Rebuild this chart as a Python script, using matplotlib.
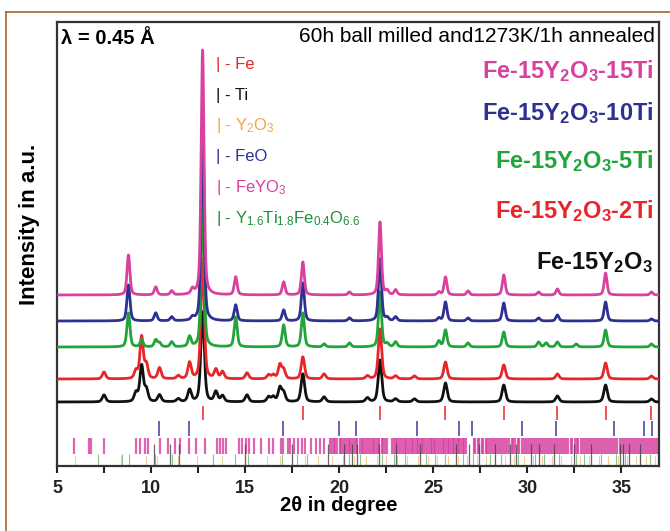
import numpy as np
import matplotlib
matplotlib.use("Agg")
import matplotlib.pyplot as plt
from matplotlib.lines import Line2D

plt.rcParams["font.family"] = ["Liberation Sans", "DejaVu Sans"]
plt.rcParams["mathtext.fontset"] = "custom"
plt.rcParams["mathtext.rm"] = "Liberation Sans"
plt.rcParams["mathtext.bf"] = "Liberation Sans:bold"
plt.rcParams["mathtext.it"] = "Liberation Sans:italic"

# peak positions (2theta, deg) shared by all patterns
peak_pos = [7.5, 8.8, 9.2, 9.5, 9.75, 10.25, 10.45, 11.1, 11.45, 12.05,
            12.2, 12.74, 13.45, 13.8, 14.5, 15.1, 16.25, 16.5, 16.85, 17.05,
            18.07, 19.2, 20.55, 21.5, 22.17, 22.55, 23.0, 24.0, 25.3, 25.65,
            26.85, 28.75, 30.6, 31.0, 31.6, 32.6, 34.16, 36.6]

# peak heights (a.u.) for each sample
h_15ti = [0, 40, 0, 0, 0, 8, 0, 4, 0, 0,
          5, 245, 0, 0, 18, 0, 0, 0, 0, 13,
          33, 0, 3, 0, 73, 4, 5, 0, 3, 18,
          4, 20, 3, 0, 6, 0, 22, 3]
h_10ti = [0, 36, 0, 0, 0, 8, 0, 4, 0, 0,
          3, 190, 0, 0, 16, 0, 0, 0, 0, 11,
          38, 0, 3, 0, 62, 3, 4, 0, 3, 19,
          3, 18, 3, 0, 6, 0, 19, 2]
h_5ti = [0, 34, 0, 7, 0, 7, 4, 5, 0, 10,
         0, 150, 0, 0, 30, 0, 0, 0, 0, 22,
         34, 3, 4, 0, 55, 3, 5, 0, 6, 17,
         4, 15, 5, 4, 5, 3, 17, 3]
h_2ti = [7, 0, 8, 42, 14, 0, 11, 0, 3, 16,
         0, 120, 9, 7, 0, 6, 4, 4, 14, 9,
         22, 5, 0, 3, 50, 0, 3, 3, 0, 17,
         0, 14, 0, 0, 5, 0, 16, 3]
h_0ti = [7, 0, 9, 36, 12, 0, 7, 0, 3, 12,
         0, 90, 10, 6, 0, 7, 5, 5, 14, 9,
         28, 5, 0, 4, 42, 0, 3, 3, 0, 19,
         0, 17, 0, 0, 6, 0, 17, 3]

series_labels = ["Fe-15Y$_\\mathbf{2}$O$_\\mathbf{3}$-15Ti",
                 "Fe-15Y$_\\mathbf{2}$O$_\\mathbf{3}$-10Ti",
                 "Fe-15Y$_\\mathbf{2}$O$_\\mathbf{3}$-5Ti",
                 "Fe-15Y$_\\mathbf{2}$O$_\\mathbf{3}$-2Ti",
                 "Fe-15Y$_\\mathbf{2}$O$_\\mathbf{3}$"]
series_heights = [h_15ti, h_10ti, h_5ti, h_2ti, h_0ti]
series_colors = ["#d9419f", "#2e3192", "#1fa53a", "#e8262a", "#111111"]
offsets = [171, 145, 119, 87, 64]
widths = [0.18, 0.19, 0.19, 0.21, 0.22]

# reference reflection positions
fe_ref = [12.75, 18.07, 22.17, 25.65, 28.75, 31.56, 34.16, 36.6]
feo_ref = [10.4, 12.02, 17.02, 19.97, 20.9, 24.16, 26.35, 27.05, 29.7,
           31.55, 34.6, 36.2, 36.65]
feyo3_ref = [5.92, 6.72, 6.83, 7.52, 9.19, 9.41, 9.67, 9.84, 10.48, 10.91,
             11.3, 11.52, 12.0, 12.38, 12.85, 13.49, 13.65, 13.82, 13.97,
             14.68, 14.83, 15.04, 15.2, 15.49, 15.86, 16.29, 16.5, 16.9,
             17.04, 17.26, 17.37, 17.58, 17.8, 18.0, 18.2, 18.48, 18.76,
             18.98, 19.19, 19.52, 19.6, 19.71, 19.78, 19.9, 20.02, 20.1,
             20.18, 20.3, 20.41, 20.5, 20.57, 20.69, 20.8, 20.88, 20.97,
             21.1, 21.2, 21.27, 21.38, 21.5, 21.56, 21.67, 21.78, 21.86,
             21.95, 22.05, 22.14, 22.26, 22.35, 22.44, 22.52, 22.82, 22.9,
             23.0, 23.08, 23.18, 23.3, 23.37, 23.48, 23.56, 23.66, 23.75,
             23.85, 23.93, 24.02, 24.12, 24.2, 24.31, 24.4, 24.48, 24.58,
             24.67, 24.77, 24.86, 24.94, 25.05, 25.12, 25.22, 25.31, 25.4,
             25.5, 25.58, 25.67, 25.76, 25.85, 25.94, 26.03, 26.12, 26.2,
             26.3, 26.38, 26.47, 26.56, 26.65, 26.74, 27.15, 27.24, 27.36,
             27.45, 27.57, 27.66, 27.78, 27.86, 27.97, 28.08, 28.2, 28.29,
             28.4, 28.52, 28.61, 28.73, 28.84, 28.93, 29.05, 29.16, 29.25,
             29.37, 29.48, 29.58, 29.7, 29.8, 29.91, 30.03, 30.12, 30.24,
             30.35, 30.44, 30.56, 30.67, 30.77, 30.88, 31.0, 31.1, 31.2,
             31.32, 31.43, 31.52, 31.64, 31.75, 31.86, 31.96, 32.07, 32.18,
             32.3, 32.4, 32.51, 32.62, 32.72, 32.84, 32.94, 33.05, 33.16,
             33.27, 33.38, 33.48, 33.6, 33.7, 33.8, 33.92, 34.03, 34.13,
             34.25, 34.36, 34.46, 34.58, 34.68, 34.79, 34.9, 35.01, 35.12,
             35.22, 35.34, 35.44, 35.55, 35.66, 35.77, 35.88, 35.98, 36.09,
             36.2, 36.31, 36.42, 36.52, 36.63, 36.74, 36.85, 36.95]
ti_ref = [10.15, 11.0, 11.5, 15.0, 17.5, 19.4, 20.25, 20.7, 20.96, 22.1,
          23.04, 24.3, 26.2, 26.9, 27.45, 28.3, 29.1, 29.4, 30.2, 30.6,
          31.4, 32.5, 33.4, 34.9, 35.1, 35.4, 36.0]
y2o3_ref = [5.96, 8.43, 9.73, 10.33, 11.42, 12.42, 13.78, 15.0, 16.16,
            16.88, 17.5, 18.2, 18.9, 19.6, 20.2, 20.8, 21.4, 22.0, 22.5,
            23.1, 23.6, 24.2, 24.7, 25.2, 25.8, 26.3, 26.8, 27.3, 27.8,
            28.3, 28.8, 29.3, 29.8, 30.3, 30.8, 31.3, 31.8, 32.3, 32.8,
            33.3, 33.8, 34.3, 34.8, 35.3, 35.8, 36.3, 36.8]
pyro_ref = [7.2, 8.47, 8.85, 10.22, 11.14, 13.28, 14.46, 15.13, 16.97,
            17.74, 18.29, 20.5, 21.1, 22.3, 22.9, 23.5, 24.6, 25.1, 25.6,
            26.6, 27.1, 28.0, 28.6, 29.5, 30.4, 30.9, 31.7, 32.6, 33.0,
            33.9, 34.7, 35.2, 36.0, 36.5]

legend_names = ["| - Fe", "| - Ti", "| - Y$_2$O$_3$", "| - FeO", "| - FeYO$_3$",
                "| - Y$_{1.6}$Ti$_{1.8}$Fe$_{0.4}$O$_{6.6}$"]
legend_colors = ["#e8262a", "#111111", "#f2a541", "#2e3192", "#d9419f", "#1f8f3a"]


def pattern(x, pos, hts, w, eta=0.45):
    y = np.zeros_like(x)
    for p, h in zip(pos, hts):
        if h == 0:
            continue
        u = (x - p) / (w / 2)
        y += h * (eta / (1 + u ** 2) + (1 - eta) * np.exp(-np.log(2) * u ** 2))
    return y


x = np.linspace(5, 37, 4000)

fig = plt.figure(figsize=(6.7, 5.31), dpi=100)
ax = fig.add_axes([0.085, 0.1224, 0.8986, 0.8362])

# draw bottom pattern first so the upper ones sit on top
for i in reversed(range(len(series_heights))):
    y = pattern(x, peak_pos, series_heights[i], widths[i]) + offsets[i]
    ax.plot(x, y, color=series_colors[i], lw=2.0, zorder=3 + (5 - i))

# reference ticks
ax.vlines(fe_ref, 46, 60, color="#e8262a", lw=1.1)
ax.vlines(feo_ref, 30, 45, color="#3b3ba0", lw=1.1)
ax.vlines(feyo3_ref, 12, 28, color="#d63c9e", lw=1.6, alpha=0.8)
ax.vlines(y2o3_ref, 0, 10, color="#f2b36a", lw=0.8, alpha=0.7)
ax.vlines(pyro_ref, 0, 12, color="#5aa85a", lw=0.8, alpha=0.7)
ax.vlines(ti_ref, 0, 22, color="#444444", lw=0.9, alpha=0.8)

ax.set_xlim(5, 37)
ax.set_ylim(0, 444)
ax.set_yticks([])
ax.set_xticks([5, 10, 15, 20, 25, 30, 35])
ax.set_xticks([7.5, 12.5, 17.5, 22.5, 27.5, 32.5], minor=True)
ax.tick_params(axis="x", which="both", direction="out", length=5, width=1.5,
               colors="#222222", labelsize=13, pad=5)
for lab in ax.get_xticklabels():
    lab.set_fontweight("bold")
for s in ax.spines.values():
    s.set_linewidth(1.6)
    s.set_color("#333333")

ax.set_xlabel("2θ in degree", fontsize=14.5, fontweight="bold")
ax.xaxis.set_label_coords(0.468, -0.068)
ax.set_ylabel("Intensity in a.u.", fontsize=16, fontweight="bold")
ax.yaxis.set_label_coords(-0.028, 0.545)

ax.text(0.007, 0.985, "λ = 0.45 Å", transform=ax.transAxes, fontsize=14.5,
        fontweight="bold", ha="left", va="top")
ax.text(0.993, 0.988, "60h ball milled and1273K/1h annealed",
        transform=ax.transAxes, fontsize=15, ha="right", va="top")

# phase key
for k, (name, c) in enumerate(zip(legend_names, legend_colors)):
    ax.text(0.265, 0.905 - k * 0.0695, name, transform=ax.transAxes,
            fontsize=12, color=c, ha="left", va="center")

# sample labels
label_y = [0.89, 0.795, 0.687, 0.575, 0.458]
for k, (name, c) in enumerate(zip(series_labels, series_colors)):
    ax.text(0.99, label_y[k], name, transform=ax.transAxes, fontsize=17,
            fontweight="bold", color=c, ha="right", va="center")

# brown frame on the page
fig.add_artist(Line2D([6 / 670, 6 / 670], [0, 1 - 12 / 531], color="#a5652f",
                      lw=1.2, transform=fig.transFigure))
fig.add_artist(Line2D([6 / 670, 1], [1 - 12 / 531, 1 - 12 / 531],
                      color="#a5652f", lw=1.2, transform=fig.transFigure))

fig.savefig("out.png", dpi=100)
